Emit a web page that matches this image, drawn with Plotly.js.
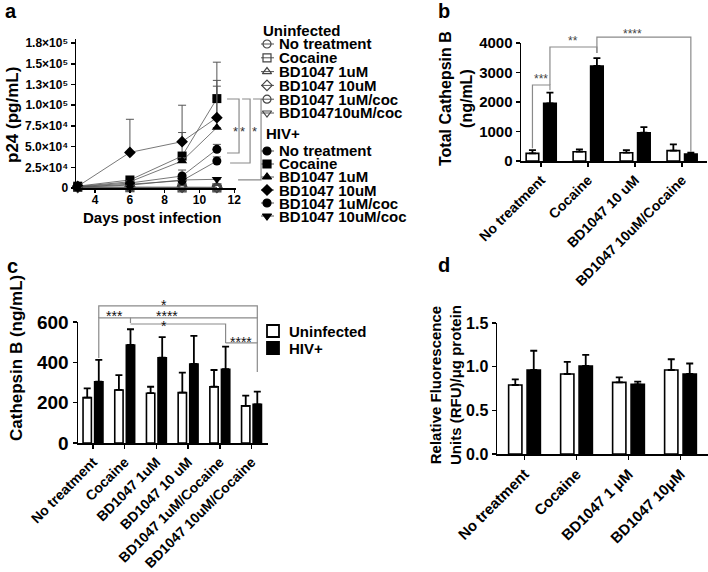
<!DOCTYPE html>
<html><head><meta charset="utf-8">
<script src="https://cdn.plot.ly/plotly-3.0.1.min.js"></script>
<style>html,body{margin:0;padding:0;background:#fff}#chart{width:708px;height:572px}</style>
</head><body><div id="chart"></div>
<script>
// ================= DATA =================
// Panel a: p24 (pg/mL) vs days post infection
const days = [3, 6, 9, 11];
const aLabelsUninf = ['No treatment', 'Cocaine', 'BD1047 1uM', 'BD1047 10uM', 'BD1047 1uM/coc', 'BD104710uM/coc'];
const aLabelsHiv = ['No treatment', 'Cocaine', 'BD1047 1uM', 'BD1047 10uM', 'BD1047 1uM/coc', 'BD1047 10uM/coc'];
const uninfNT = [1000, 600, 500, 400];
const uninfCoc = [800, 300, 100, 100];
const uninfBD1 = [700, 800, 600, 500];
const uninfBD10 = [600, 1200, 900, 700];
const uninfBD1coc = [900, 700, 1000, 800];
const uninfBD10coc = [800, 500, 700, 600];
const hivNT = [1500, 6000, 14500, 46700];
const hivNTerr = [0, 1000, 7200, 6000];
const hivCoc = [2200, 9700, 38600, 108000];
const hivCocErr = [0, 1500, 28400, 44000];
const hivBD1 = [1800, 7500, 32600, 73000];
const hivBD1err = [0, 1000, 4000, 50000];
const hivBD10 = [2000, 43000, 56000, 85000];
const hivBD10err = [0, 40000, 44000, 45000];
const hivBD1coc = [1200, 4500, 8900, 32600];
const hivBD1cocErr = [0, 800, 3000, 5000];
const hivBD10coc = [1000, 3500, 9700, 10500];
const hivBD10cocErr = [0, 500, 1500, 2000];
const aTickVals = [0, 25000, 50000, 75000, 100000, 125000, 150000, 175000];
const aTickText = ['0', '2.5×10⁴', '5.0×10⁴', '7.5×10⁴', '1.0×10⁵', '1.3×10⁵', '1.5×10⁵', '1.8×10⁵'];
const aDayTicks = [4, 6, 8, 10, 12];

// Panel b: Total Cathepsin B (ng/mL)
const bCats = ['No treatment', 'Cocaine', 'BD1047 10 uM', 'BD1047 10uM/Cocaine'];
const bUninf = [260, 316, 282, 350];
const bUninfErr = [110, 80, 90, 215];
const bHiv = [1955, 3220, 960, 237];
const bHivErr = [360, 270, 190, 45];

// Panel c: Cathepsin B (ng/mL)
const cCats = ['No treatment', 'Cocaine', 'BD1047 1uM', 'BD1047 10 uM', 'BD1047 1uM/Cocaine', 'BD1047 10uM/Cocaine'];
const cUninf = [225, 263, 247, 250, 279, 184];
const cUninfErr = [46, 74, 32, 99, 83, 51];
const cHiv = [304, 486, 423, 392, 366, 192];
const cHivErr = [108, 78, 102, 139, 112, 63];

// Panel d: Relative fluorescence
const dCats = ['No treatment', 'Cocaine', 'BD1047 1 μM', 'BD1047 10μM'];
const dUninf = [0.79, 0.916, 0.82, 0.962];
const dUninfErr = [0.065, 0.14, 0.058, 0.123];
const dHiv = [0.962, 1.008, 0.798, 0.916];
const dHivErr = [0.22, 0.126, 0.03, 0.12];

// ================= LAYOUT GEOMETRY =================
const W = 708, H = 572;
const FONT = "'Liberation Sans', Arial, Helvetica, sans-serif";
const fnt = (size, color, weight) => ({family: FONT, size: size, color: color || 'black', weight: weight || 'bold'});
const G = {
  a: {x0: 76, x1: 236, xr: [2.9, 12.1], y0: 188, y1: 39, yr: [0, 180000]},
  b: {x0: 521, x1: 707, xr: [-0.43, 3.53], y0: 161, y1: 43, yr: [0, 4000], gap: 0.255},
  c: {x0: 78, x1: 268, xr: [-0.473, 5.52], y0: 443, y1: 322, yr: [0, 600], gap: 0.27},
  d: {x0: 497, x1: 708, xr: [-0.529, 3.529], y0: 454, y1: 323, yr: [0, 1.5], gap: 0.29}
};
const xpx = (g, v) => g.x0 + (v - g.xr[0]) / (g.xr[1] - g.xr[0]) * (g.x1 - g.x0);
const ypx = (g, v) => g.y0 - (v - g.yr[0]) / (g.yr[1] - g.yr[0]) * (g.y0 - g.y1);
const PX = p => p / W, PY = p => 1 - p / H;
const xdom = g => [g.x0 / W, Math.min(1, g.x1 / W)];
const ydom = g => [1 - g.y0 / H, 1 - g.y1 / H];
const half = g => (1 - g.gap) / 4;
const bw = g => (1 - g.gap) / 2 * 0.72;

function axBase(extra) {
  return Object.assign({showline: true, linecolor: 'black', linewidth: 1.5, ticks: 'outside', ticklen: 4,
    tickwidth: 1.5, tickcolor: 'black', showgrid: false, zeroline: false, fixedrange: true, automargin: false}, extra);
}

const traces = [];
// ----- Panel a -----
const uninfSeries = [uninfNT, uninfCoc, uninfBD1, uninfBD10, uninfBD1coc, uninfBD10coc];
const hivSeries = [hivNT, hivCoc, hivBD1, hivBD10, hivBD1coc, hivBD10coc];
const hivErrs = [hivNTerr, hivCocErr, hivBD1err, hivBD10err, hivBD1cocErr, hivBD10cocErr];
const symU = ['circle-open', 'square-open', 'triangle-up-open', 'diamond-open', 'circle-open', 'triangle-down-open'];
const symH = ['circle', 'square', 'triangle-up', 'diamond', 'circle', 'triangle-down'];
uninfSeries.forEach((ys, i) => traces.push({
  type: 'scatter', x: days, y: ys, xaxis: 'x', yaxis: 'y', mode: 'lines+markers', name: 'Uninfected ' + aLabelsUninf[i],
  line: {color: '#666', width: 0.8}, marker: {symbol: symU[i], size: 8, color: '#444', line: {color: '#444', width: 1.2}},
  cliponaxis: false, showlegend: false
}));
hivSeries.forEach((ys, i) => traces.push({
  type: 'scatter', x: days, y: ys, xaxis: 'x', yaxis: 'y', mode: 'lines+markers', name: 'HIV+ ' + aLabelsHiv[i],
  line: {color: '#555', width: 0.8}, marker: {symbol: symH[i], size: 9, color: 'black'},
  error_y: {type: 'data', array: hivErrs[i], arrayminus: hivErrs[i].map(() => 0), symmetric: false, color: '#555', thickness: 1, width: 4},
  cliponaxis: false, showlegend: false
}));

// ----- Bar panels -----
function barPair(g, xa, ya, cats, u, ue, h, he) {
  const w = bw(g), hh = half(g);
  const eb = (arr) => ({type: 'data', array: arr, arrayminus: arr.map(() => 0), symmetric: false, color: 'black', thickness: 1.8, width: 3.5});
  traces.push({type: 'bar', x: cats, y: u, xaxis: xa, yaxis: ya, name: 'Uninfected', width: w, offset: -hh - w / 2,
    marker: {color: 'white', line: {color: 'black', width: 1.6}}, error_y: eb(ue), showlegend: false});
  traces.push({type: 'bar', x: cats, y: h, xaxis: xa, yaxis: ya, name: 'HIV+', width: w, offset: hh - w / 2,
    marker: {color: 'black', line: {color: 'black', width: 1.6}}, error_y: eb(he), showlegend: false});
}
barPair(G.b, 'x2', 'y2', bCats, bUninf, bUninfErr, bHiv, bHivErr);
barPair(G.c, 'x3', 'y3', cCats, cUninf, cUninfErr, cHiv, cHivErr);
barPair(G.d, 'x4', 'y4', dCats, dUninf, dUninfErr, dHiv, dHivErr);

// ----- Manual legends (overlay pixel axes) -----
const legA = {mx: 267, l0: 261, l1: 274, tx: 277, uHead: 30, uY0: 44, uStep: 13.8, hHead: 133, hY0: 151, hStep: 13};
const legLineX = [], legLineY = [], legMX = [], legMY = [], legSym = [], legCol = [];
const annotations = [];
aLabelsUninf.forEach((lab, i) => {
  const y = legA.uY0 + legA.uStep * i;
  legLineX.push(legA.l0, legA.l1, null); legLineY.push(y, y, null);
  legMX.push(legA.mx); legMY.push(y); legSym.push(symU[i]); legCol.push('#444');
  annotations.push({xref: 'paper', yref: 'paper', x: PX(legA.tx), y: PY(y), text: lab, showarrow: false, xanchor: 'left', yanchor: 'middle', font: fnt(15)});
});
aLabelsHiv.forEach((lab, i) => {
  const y = legA.hY0 + legA.hStep * i;
  legLineX.push(legA.l0, legA.l1, null); legLineY.push(y, y, null);
  legMX.push(legA.mx); legMY.push(y); legSym.push(symH[i]); legCol.push('black');
  annotations.push({xref: 'paper', yref: 'paper', x: PX(legA.tx), y: PY(y), text: lab, showarrow: false, xanchor: 'left', yanchor: 'middle', font: fnt(15)});
});
annotations.push({xref: 'paper', yref: 'paper', x: PX(261), y: PY(legA.uHead), text: 'Uninfected', showarrow: false, xanchor: 'left', yanchor: 'middle', font: fnt(15)});
annotations.push({xref: 'paper', yref: 'paper', x: PX(264), y: PY(legA.hHead), text: 'HIV+', showarrow: false, xanchor: 'left', yanchor: 'middle', font: fnt(15)});
traces.push({type: 'scatter', x: legLineX, y: legLineY, xaxis: 'x5', yaxis: 'y5', mode: 'lines', line: {color: '#555', width: 1}, hoverinfo: 'skip', showlegend: false});
traces.push({type: 'scatter', x: legMX, y: legMY, xaxis: 'x5', yaxis: 'y5', mode: 'markers', hoverinfo: 'skip', showlegend: false,
  marker: {symbol: legSym, size: 8, color: legCol, line: {color: legCol, width: 1.2}}});
// legend c
const legC = {bx: 273, tx: 287, y0: 331, step: 17};
traces.push({type: 'scatter', x: [legC.bx, legC.bx], y: [legC.y0, legC.y0 + legC.step], xaxis: 'x5', yaxis: 'y5', mode: 'markers',
  hoverinfo: 'skip', showlegend: false, marker: {symbol: 'square', size: 12, color: ['white', 'black'], line: {color: 'black', width: 1.8}}});
['Uninfected', 'HIV+'].forEach((t, i) => annotations.push({xref: 'paper', yref: 'paper', x: PX(legC.tx), y: PY(legC.y0 + legC.step * i),
  text: t, showarrow: false, xanchor: 'left', yanchor: 'middle', font: fnt(15)}));

// ----- Significance brackets -----
const shapes = [];
function starAnn(xp, yp, text, size, color) {
  annotations.push({xref: 'paper', yref: 'paper', x: PX(xp), y: PY(yp + 0.25 * size), text: text, showarrow: false,
    xanchor: 'center', yanchor: 'middle', font: fnt(size, color, 'normal')});
}
function seg(pts, color, width) {
  const d = pts.map((p, k) => (k ? 'L' : 'M') + PX(p[0]).toFixed(5) + ',' + PY(p[1]).toFixed(5)).join(' ');
  shapes.push({type: 'path', xref: 'paper', yref: 'paper', path: d, line: {color: color, width: width}});
}
function catBrackets(g, list, color, starColor, size) {
  const hh = half(g);
  list.forEach(b => {
    const xi = xpx(g, b.i + b.si * hh), xj = xpx(g, b.j + b.sj * hh);
    const yl = ypx(g, b.level);
    seg([[xi, ypx(g, b.l1)], [xi, yl], [xj, yl], [xj, ypx(g, b.l2)]], color, 1.2);
    const xm = (xi + xj) / 2 + (b.tdx || 0) * (xpx(g, 1) - xpx(g, 0));
    starAnn(xm, yl - b.tdy, b.text, size, starColor);
  });
}
const bBrackets = [
  {i: 0, si: -1, j: 0, sj: 1, level: 2576, l1: 430, l2: 2400, text: '***', tdy: 9},
  {i: 0, si: 1, j: 1, sj: 1, level: 3864, l1: 2576, l2: 3660, text: '**', tdy: 9},
  {i: 1, si: 1, j: 3, sj: 1, level: 4200, l1: 3660, l2: 305, text: '****', tdx: -0.245, tdy: 6}
];
const cBrackets = [
  {i: 0, si: 1, j: 5, sj: 1, level: 680, l1: 620, l2: 620, text: '*', tdx: -0.44, tdy: 4},
  {i: 0, si: 1, j: 1, sj: 1, level: 620, l1: 422, l2: 595, text: '***', tdy: 5},
  {i: 1, si: 1, j: 5, sj: 1, level: 620, l1: 620, l2: 496, text: '****', tdx: -0.85, tdy: 5},
  {i: 1, si: 1, j: 4, sj: 1, level: 590, l1: 590, l2: 496, text: '*', tdx: -0.44, tdy: 2},
  {i: 4, si: 1, j: 5, sj: 1, level: 496, l1: 496, l2: 352, text: '****', tdy: 4}
];
catBrackets(G.b, bBrackets, '#8a8a8a', '#444', 12);
catBrackets(G.c, cBrackets, '#8a8a8a', '#111', 14);
const aBrackets = [
  {x: 12.275, topLeft: 11.585, bottomLeft: 11.585, top: 107500, bottom: 42300, starX: 12.05},
  {x: 12.91, topLeft: 12.45, bottomLeft: 11.76, top: 107500, bottom: 30200, starX: 12.5},
  {x: 13.54, topLeft: 13.08, bottomLeft: 12.22, top: 107500, bottom: 9700, starX: 13.14}
];
aBrackets.forEach(b => {
  const g = G.a;
  seg([[xpx(g, b.topLeft), ypx(g, b.top)], [xpx(g, b.x), ypx(g, b.top)], [xpx(g, b.x), ypx(g, b.bottom)], [xpx(g, b.bottomLeft), ypx(g, b.bottom)]], '#8a8a8a', 1.2);
  starAnn(xpx(g, b.starX), ypx(g, 72500), '*', 13, '#333');
});

// ----- Titles & panel letters -----
function txt(xp, yp, text, size, angle) {
  annotations.push({xref: 'paper', yref: 'paper', x: PX(xp), y: PY(yp), text: text, showarrow: false,
    xanchor: 'center', yanchor: 'middle', textangle: angle || 0, font: fnt(size)});
}
txt(11, 11, 'a', 20); txt(444, 11, 'b', 20); txt(12, 266, 'c', 20); txt(444, 265, 'd', 20);
txt(12, 115, 'p24 (pg/mL)', 17, -90);
txt(152, 217, 'Days post infection', 15);
txt(456, 98, 'Total Cathepsin B<br>(ng/mL)', 16, -90);
txt(16, 358, 'Cathepsin B (ng/mL)', 17, -90);
txt(445, 385, 'Relative Fluorescence<br>Units (RFU)/μg protein', 15, -90);

const layout = {
  width: W, height: H, margin: {l: 0, r: 0, t: 0, b: 0}, paper_bgcolor: 'white', plot_bgcolor: 'rgba(0,0,0,0)',
  showlegend: false, barmode: 'overlay', font: {family: FONT, color: 'black'},
  xaxis: axBase({domain: xdom(G.a), range: G.a.xr, anchor: 'y', tickvals: aDayTicks, tickfont: fnt(12), ticklen: 3, ticklabelstandoff: -3}),
  yaxis: axBase({domain: ydom(G.a), range: G.a.yr, anchor: 'x', tickvals: aTickVals, ticktext: aTickText, tickfont: fnt(12)}),
  xaxis2: axBase({domain: xdom(G.b), range: G.b.xr, anchor: 'y2', type: 'category', tickangle: -45, tickfont: fnt(14)}),
  yaxis2: axBase({domain: ydom(G.b), range: G.b.yr, anchor: 'x2', tickvals: [0, 1000, 2000, 3000, 4000], tickfont: fnt(15)}),
  xaxis3: axBase({domain: xdom(G.c), range: G.c.xr, anchor: 'y3', type: 'category', tickangle: -45, tickfont: fnt(14)}),
  yaxis3: axBase({domain: ydom(G.c), range: G.c.yr, anchor: 'x3', tickvals: [0, 200, 400, 600], tickfont: fnt(19)}),
  xaxis4: axBase({domain: xdom(G.d), range: G.d.xr, anchor: 'y4', type: 'category', tickangle: -45, tickfont: fnt(15)}),
  yaxis4: axBase({domain: ydom(G.d), range: G.d.yr, anchor: 'x4', tickvals: [0, 0.5, 1, 1.5], ticktext: ['0.0', '0.5', '1.0', '1.5'], tickfont: fnt(16)}),
  xaxis5: {domain: [0, 1], range: [0, W], visible: false, fixedrange: true, anchor: 'y5'},
  yaxis5: {domain: [0, 1], range: [H, 0], visible: false, fixedrange: true, anchor: 'x5'},
  shapes: shapes, annotations: annotations
};
Plotly.newPlot('chart', traces, layout, {staticPlot: true, displayModeBar: false});
</script></body></html>
